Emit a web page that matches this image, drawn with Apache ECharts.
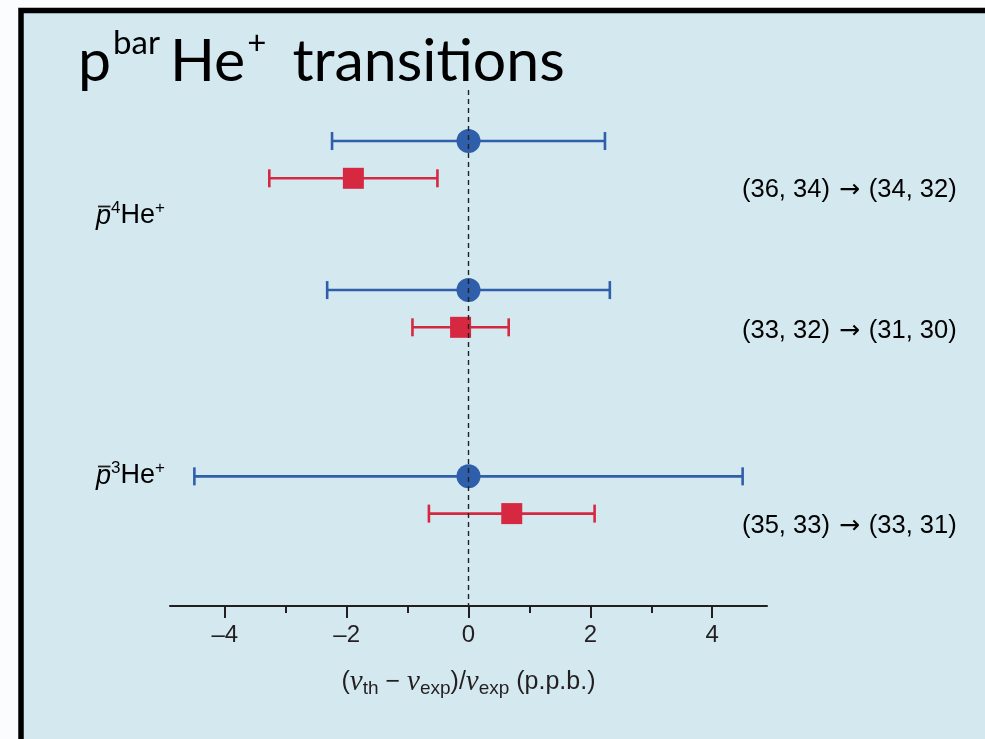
<!DOCTYPE html>
<html>
<head>
<meta charset="utf-8">
<script src="https://cdn.jsdelivr.net/npm/echarts@6/dist/echarts.min.js"></script>
<style>
  html, body { margin: 0; padding: 0; background: #fafcfd; }
  #chart { width: 985px; height: 739px; }
</style>
</head>
<body>
<div id="chart"></div>
<script>
// Transition labels (n, l) -> (n', l')
const transitionFrom = ['(36, 34)', '(33, 32)', '(35, 33)'];
const transitionTo = ['(34, 32)', '(31, 30)', '(33, 31)'];
// Isotope group labels (mass number)
const isotopes = ['4', '3'];
// Theoretical frequencies (circles), relative difference and uncertainty in p.p.b.
const theoryValues = [0, 0, 0];
const theoryErrors = [2.24, 2.32, 4.5];
// Experimental frequencies (squares)
const experimentValues = [-1.89, -0.13, 0.71];
const experimentErrors = [1.38, 0.79, 1.36];
// Row slots on the vertical axis
const theoryRows = [0, 4, 9];
const experimentRows = [1, 5, 10];
// x-axis ticks
const xMajorTicks = [-4, -2, 0, 2, 4];
const xMinorTicks = [-3, -1, 1, 3];

const BLUE = '#2f5faa';
const RED = '#d62841';
const INK = '#231f20';

function errorRows(values, errors, rows) {
  return values.map((v, i) => [v, rows[i], v - errors[i], v + errors[i]]);
}

function errorBar(color) {
  return function (params, api) {
    const y = api.value(1);
    const lo = api.coord([api.value(2), y]);
    const hi = api.coord([api.value(3), y]);
    const cap = 9;
    const st = { stroke: color, lineWidth: 2.6 };
    return {
      type: 'group',
      children: [
        { type: 'line', shape: { x1: lo[0], y1: lo[1], x2: hi[0], y2: hi[1] }, style: st },
        { type: 'line', shape: { x1: lo[0], y1: lo[1] - cap, x2: lo[0], y2: lo[1] + cap }, style: st },
        { type: 'line', shape: { x1: hi[0], y1: hi[1] - cap, x2: hi[0], y2: hi[1] + cap }, style: st }
      ]
    };
  };
}

const chart = echarts.init(document.getElementById('chart'));

const isoRich = {
  i: { fontFamily: 'Liberation Sans', fontStyle: 'italic', fontSize: 27, color: INK },
  n: { fontFamily: 'Liberation Sans', fontSize: 27, color: INK },
  s: { fontFamily: 'Liberation Sans', fontSize: 17, color: INK, padding: [0, 0, 15, 0] }
};

// p-bar isotope label: italic p with an overline, then superscript mass number
function isotopeLabel(mass, x, y) {
  return {
    type: 'group',
    x: x, y: y,
    children: [
      { type: 'text', x: 0, y: 0,
        style: { text: '{i|p}{s|' + mass + '}{n|He}{s|+}', rich: isoRich, verticalAlign: 'middle', align: 'left' } },
      { type: 'line', shape: { x1: 2, y1: -9.5, x2: 14.5, y2: -9.5 }, style: { stroke: INK, lineWidth: 1.8 } }
    ]
  };
}

const transRich = {
  t: { fontFamily: 'Liberation Sans', fontSize: 25.5, color: INK },
  a: { fontFamily: 'DejaVu Sans', fontSize: 25, color: INK, padding: [0, 9, 0, 9] }
};

const option = {
  animation: false,
  backgroundColor: 'transparent',
  grid: { left: 170, right: 218, top: 90, bottom: 133 },
  xAxis: [
    {
      type: 'value', position: 'bottom', min: -4.9, max: 4.9,
      axisLine: { show: true, onZero: false, lineStyle: { color: INK, width: 2 } },
      axisTick: { show: true, customValues: xMajorTicks, length: 12, lineStyle: { color: INK, width: 2 } },
      axisLabel: {
        customValues: xMajorTicks, margin: 17, fontSize: 24, color: INK, fontFamily: 'Liberation Sans',
        formatter: v => (v < 0 ? '–' + Math.abs(v) : String(v))
      },
      splitLine: { show: false },
      name: '{p|(}{v|ν}{b|th}{p| − }{v|ν}{b|exp}{p|)/}{v|ν}{b|exp}{p| (p.p.b.)}',
      nameLocation: 'middle', nameGap: 60,
      nameTextStyle: {
        rich: {
          p: { fontFamily: 'Liberation Sans', fontSize: 25, color: INK },
          v: { fontFamily: 'Liberation Serif', fontStyle: 'italic', fontSize: 29, color: INK },
          b: { fontFamily: 'Liberation Sans', fontSize: 19, color: INK, padding: [13, 0, 0, 0] }
        }
      }
    },
    {
      type: 'value', position: 'bottom', min: -4.9, max: 4.9,
      axisLine: { show: false, onZero: false },
      axisTick: { show: true, customValues: xMinorTicks, length: 7, lineStyle: { color: INK, width: 2 } },
      axisLabel: { show: false },
      splitLine: { show: false }
    }
  ],
  yAxis: { type: 'value', inverse: true, min: -1.37, max: 12.48, show: false },
  graphic: [
    { type: 'rect', shape: { x: 21, y: 10.5, width: 990, height: 760 },
      style: { fill: '#d4e8ef', stroke: '#000', lineWidth: 5.5 }, z: -10 },
    { type: 'text', x: 78, y: 96,
      style: {
        text: '{b|p}{s|bar}{g|He}{q|+}{b|transitions}',
        verticalAlign: 'bottom',
        rich: {
          b: { fontFamily: 'Lato', fontSize: 59, color: '#111' },
          g: { fontFamily: 'Lato', fontSize: 59, color: '#111', padding: [0, 0, 0, 10] },
          s: { fontFamily: 'Lato', fontSize: 33, color: '#111', padding: [0, 0, 36, 2] },
          q: { fontFamily: 'Lato', fontSize: 33, color: '#111', padding: [0, 26, 36, 2] }
        }
      } },
    isotopeLabel(isotopes[0], 96, 216),
    isotopeLabel(isotopes[1], 96, 476),
    ...transitionFrom.map((t, i) => ({
      type: 'text', x: 742, y: [190, 331, 526][i],
      style: { text: '{t|' + t + '}{a|→}{t|' + transitionTo[i] + '}', rich: transRich, verticalAlign: 'middle', align: 'left' }
    }))
  ],
  series: [
    { type: 'custom', name: 'Theory uncertainty', renderItem: errorBar(BLUE),
      data: errorRows(theoryValues, theoryErrors, theoryRows), encode: { x: [0, 2, 3], y: 1 }, z: 2 },
    { type: 'custom', name: 'Experiment uncertainty', renderItem: errorBar(RED),
      data: errorRows(experimentValues, experimentErrors, experimentRows), encode: { x: [0, 2, 3], y: 1 }, z: 2 },
    { type: 'scatter', name: 'Theory', symbol: 'circle', symbolSize: 24,
      itemStyle: { color: BLUE, opacity: 1 },
      data: theoryValues.map((v, i) => [v, theoryRows[i]]), z: 3 },
    { type: 'scatter', name: 'Experiment', symbol: 'rect', symbolSize: 21,
      itemStyle: { color: RED, opacity: 1 },
      data: experimentValues.map((v, i) => [v, experimentRows[i]]), z: 3,
      markLine: {
        silent: true, symbol: 'none', label: { show: false },
        lineStyle: { type: [5, 4], color: '#222', width: 1.4 },
        data: [{ xAxis: 0 }]
      } }
  ]
};

chart.setOption(option);
</script>
</body>
</html>
